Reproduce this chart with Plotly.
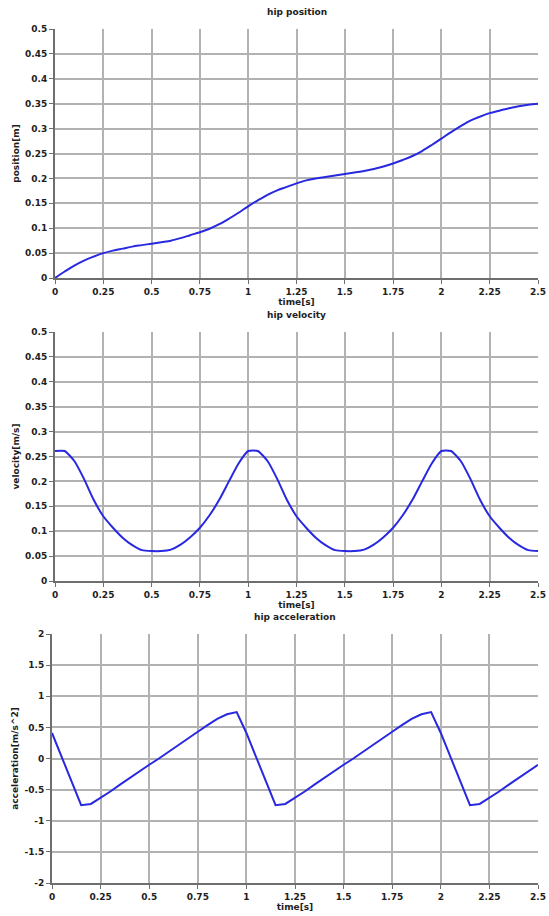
import plotly.graph_objects as go

time_s = [0.0, 0.05, 0.1, 0.15, 0.2, 0.25, 0.3, 0.35, 0.4, 0.45, 0.5, 0.55, 0.6, 0.65, 0.7, 0.75,
          0.8, 0.85, 0.9, 0.95, 1.0, 1.05, 1.1, 1.15, 1.2, 1.25, 1.3, 1.35, 1.4, 1.45, 1.5, 1.55,
          1.6, 1.65, 1.7, 1.75, 1.8, 1.85, 1.9, 1.95, 2.0, 2.05, 2.1, 2.15, 2.2, 2.25, 2.3, 2.35,
          2.4, 2.45, 2.5]

position_m = [0.0, 0.013, 0.025, 0.035, 0.043, 0.05, 0.055, 0.059, 0.063, 0.066, 0.069, 0.072,
              0.075, 0.08, 0.086, 0.092, 0.099, 0.108, 0.119, 0.131, 0.144, 0.156, 0.167, 0.176,
              0.183, 0.19, 0.196, 0.2, 0.203, 0.206, 0.209, 0.212, 0.215, 0.219, 0.224, 0.23,
              0.237, 0.245, 0.255, 0.267, 0.28, 0.293, 0.305, 0.316, 0.324, 0.331, 0.336, 0.341,
              0.345, 0.348, 0.35]

velocity_ms = [0.261, 0.261, 0.241, 0.205, 0.163, 0.13, 0.107, 0.087, 0.072, 0.062, 0.06, 0.06,
               0.063, 0.073, 0.088, 0.107, 0.132, 0.163, 0.2, 0.236, 0.261, 0.261, 0.241, 0.205,
               0.163, 0.13, 0.107, 0.087, 0.072, 0.062, 0.06, 0.06, 0.063, 0.073, 0.088, 0.107,
               0.132, 0.163, 0.2, 0.236, 0.261, 0.261, 0.241, 0.205, 0.163, 0.13, 0.107, 0.087,
               0.072, 0.062, 0.06]

accel_ms2 = [0.41, 0.03, -0.35, -0.75, -0.73, -0.635, -0.53, -0.42, -0.31, -0.21, -0.1, 0.0,
             0.11, 0.22, 0.33, 0.43, 0.535, 0.635, 0.71, 0.745, 0.41, 0.03, -0.35, -0.75, -0.73,
             -0.635, -0.53, -0.42, -0.31, -0.21, -0.1, 0.0, 0.11, 0.22, 0.33, 0.43, 0.535, 0.635,
             0.71, 0.745, 0.41, 0.03, -0.35, -0.75, -0.73, -0.635, -0.53, -0.42, -0.31, -0.21,
             -0.1]

x_ticks = [0, 0.25, 0.5, 0.75, 1, 1.25, 1.5, 1.75, 2, 2.25, 2.5]
x_ticktext = ["0", "0.25", "0.5", "0.75", "1", "1.25", "1.5", "1.75", "2", "2.25", "2.5"]
pv_ticks = [0, 0.05, 0.1, 0.15, 0.2, 0.25, 0.3, 0.35, 0.4, 0.45, 0.5]
pv_ticktext = ["0", "0.05", "0.1", "0.15", "0.2", "0.25", "0.3", "0.35", "0.4", "0.45", "0.5"]
acc_ticks = [-2, -1.5, -1, -0.5, 0, 0.5, 1, 1.5, 2]
acc_ticktext = ["-2", "-1.5", "-1", "-0.5", "0", "0.5", "1", "1.5", "2"]

titles = ["hip position", "hip velocity", "hip acceleration"]
ylabels = ["position[m]", "velocity[m/s]", "acceleration[m/s^2]"]

W, H = 549, 916
FONT = "DejaVu Sans"
LINE = "rgb(40,40,225)"
GRID = "rgb(178,178,178)"
AXC = "rgb(110,110,110)"

# pixel boxes: (left, right, top, bottom)
boxes = [(55, 538, 29, 278), (55, 538, 332, 581), (52, 538, 634, 883)]
line_styles = [dict(shape="spline", smoothing=1.0),
               dict(shape="spline", smoothing=0.5),
               dict(shape="linear")]

fig = go.Figure()
series = [position_m, velocity_ms, accel_ms2]
for i, ys in enumerate(series):
    k = "" if i == 0 else str(i + 1)
    fig.add_trace(go.Scatter(x=time_s, y=ys, mode="lines",
                             line=dict(color=LINE, width=2, **line_styles[i]),
                             xaxis="x" + k, yaxis="y" + k, showlegend=False))

layout = dict(width=W, height=H, margin=dict(l=0, r=0, t=0, b=0, autoexpand=False),
              paper_bgcolor="white", plot_bgcolor="white",
              font=dict(family=FONT, size=9, color="rgb(30,30,30)"))
annotations = []
for i, (l, r, t, b) in enumerate(boxes):
    k = "" if i == 0 else str(i + 1)
    xd = [l / W, r / W]
    yd = [1 - b / H, 1 - t / H]
    if i < 2:
        yr, yt, ytt = [0, 0.5], pv_ticks, pv_ticktext
    else:
        yr, yt, ytt = [-2, 2], acc_ticks, acc_ticktext
    layout["xaxis" + k] = dict(domain=xd, range=[0, 2.5], anchor="y" + k, automargin=False,
                               tickvals=x_ticks, ticktext=x_ticktext,
                               showgrid=True, gridcolor=GRID, gridwidth=1.5,
                               showline=True, linecolor=AXC, linewidth=2,
                               ticks="outside", ticklen=4, tickcolor=AXC,
                               zeroline=False, mirror=False,
                               tickfont=dict(family=FONT, size=9, weight="bold"),
                               title=dict(text="time[s]", standoff=2,
                                          font=dict(family=FONT, size=9, weight="bold")))
    layout["yaxis" + k] = dict(domain=yd, range=yr, anchor="x" + k, automargin=False,
                               tickvals=yt, ticktext=ytt,
                               showgrid=True, gridcolor=GRID, gridwidth=1.5,
                               showline=True, linecolor=AXC, linewidth=2,
                               ticks="outside", ticklen=4, tickcolor=AXC,
                               zeroline=False,
                               tickfont=dict(family=FONT, size=9, weight="bold"),
                               title=dict(text=ylabels[i], standoff=4,
                                          font=dict(family=FONT, size=9, weight="bold")))
    annotations.append(dict(text="<b>" + titles[i] + "</b>", x=(l + r) / 2 / W,
                            y=1 - (t - 17) / H, xref="paper", yref="paper",
                            showarrow=False, xanchor="center", yanchor="middle",
                            font=dict(family=FONT, size=9, color="rgb(30,30,30)")))
layout["annotations"] = annotations
fig.update_layout(**layout)
fig.write_html("out.html", config={"displayModeBar": False},
               post_script="document.body.style.margin='0';document.body.style.overflow='hidden';")
